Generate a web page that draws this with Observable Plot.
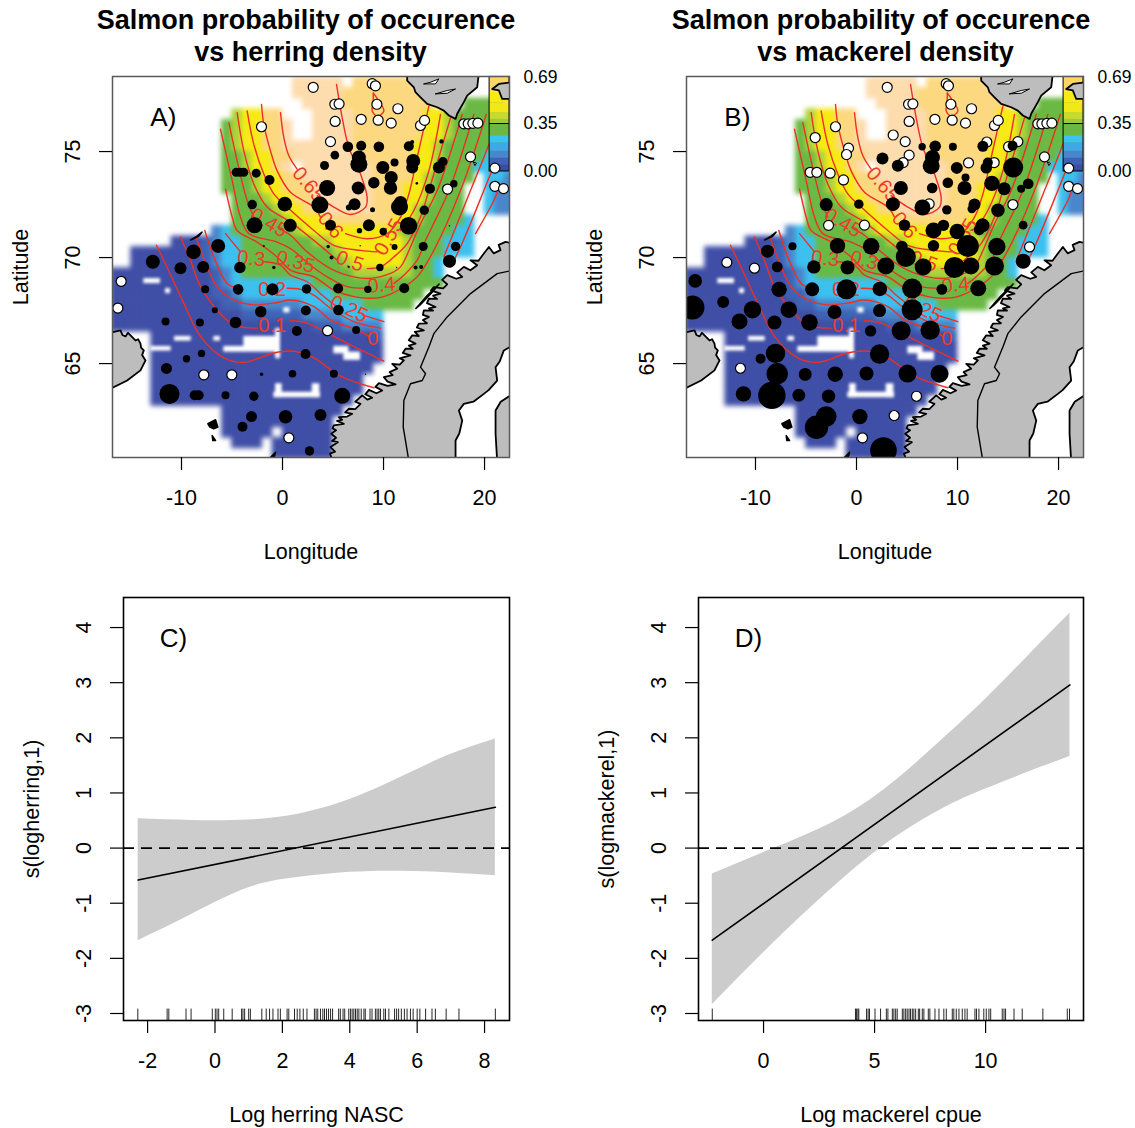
<!DOCTYPE html>
<html><head><meta charset="utf-8">
<script src="https://cdn.jsdelivr.net/npm/d3@7"></script>
<script src="https://cdn.jsdelivr.net/npm/@observablehq/plot@0.6"></script>
<style>
html,body{margin:0;padding:0;background:#fff;overflow:hidden}
#page{position:relative;width:1135px;height:1128px;font-family:"Liberation Sans",Arial,sans-serif}
.t{position:absolute;text-align:center;font-weight:bold;font-size:27px;line-height:32px;color:#000;white-space:nowrap}
.t span{position:relative;left:4.5px}
.p{position:absolute}
</style></head><body><div id="page"></div>
<script>
// Gridded probability field: one string per 0.5 degree latitude row, north to south, 1 degree longitude columns from 17W
const fieldRows = [
"..................99999.888888..........",
"..................99999888888888........",
"...................9999888888888...5555.",
"............67788...9999888888877655555.",
"...........5677889..9999888888877655555.",
"...........5677889..99998888888776555555",
"...........56778899999998888887765555555",
"...........55677889999999888887765555444",
"...........5567789.999999988887765554444",
"...........5556778899999998888765555.443",
"...........555677888999999888776555..433",
"............55567788999999888776555..433",
"............55556778899999888765555..433",
"............555556777888888877655554....",
"..........34555555677777777765555544....",
"......111234455555556677777776555444....",
"..1111112234455555555567777776555444....",
"..1111111234455555555556777776554.......",
"111111111123455555555555666666554.......",
"111111111123444444445555555555555.......",
"1111111111223444444444555555555.........",
"111111111112233333344444455555..........",
"111111111111122222233334444.............",
"111111111111111111112223333.............",
"....11111111111111111111112.............",
"....11111111111111111111111.............",
"....11111111111111111111111.............",
"....1111111111111111111111..............",
"....111111111111111111111...............",
"....111111111111111111111...............",
"....11111111111111111111................",
"...........111111111111.................",
"...........11111111111..................",
"...........11111.11111..................",
"............111.111111..................",
"................111111.................."
];
const fieldPalette = ["#3f4ea6","#3f62b4","#4a86cb","#3cc0ef","#6ab944","#aed23a","#f7ea14","#fcd880","#fddcae"];
// Unsampled gaps inside the field: lon1, lon2, lat1, lat2
const fieldGaps = [[-13.73,-12.08,69.01,68.77],[-11.58,-11.09,68.54,68.3],[-10.69,-9.04,66.28,66.06],[-6.8,-6.14,66.28,66.06],[-13.07,-11.02,65.81,65.59],[-5.81,-.53,65.81,65.54],[-3.83,-.53,66.28,65.75],[-.69,-.2,66.65,65.23],[5.08,6.57,65.81,65.46],[6.07,7.72,65.54,65.15],[-.86,3.76,63.65,63.39],[-.69,-.03,64.05,63.39],[2.94,3.7,64.05,63.39],[.13,.73,67.64,67.39]];

// Contour strands [lon,lat], one array per unbroken piece
const contour05 = [[[-12.48,70.58],[-11.75,69.87],[-9.77,67.84],[-8.12,66.28],[-5.81,65.27],[-3.83,65.06],[-.86,65.5],[1.12,65.58],[3.1,65.27],[5.74,64.41],[9.04,63.86]]];
const contour10 = [[[-10.1,70.97],[-9.11,69.87],[-8.12,68.63],[-6.47,67.53],[-4.82,66.83],[-2.51,66.67]],[[.79,67.02],[2.44,66.91],[4.75,66.36],[7.39,65.73],[10.03,65.11]]];
const contour15 = [[[-8.51,70.89],[-7.46,69.56],[-6.47,68.63],[-4.82,68],[-2.84,67.77],[-.53,67.88],[.79,68],[3.1,67.69],[4.75,67.06],[7.39,66.59],[8.55,66.28]],[[19.11,71.13],[20.92,72.69],[21.25,73.08]]];
const contour20 = [[[-7.69,71.28],[-6.8,70.03],[-5.48,68.78],[-4.16,68.52]],[[.46,68.55],[1.78,68.5],[3.1,68.23],[4.75,67.61],[7.06,66.98],[9.7,66.67]],[[16.63,69.56],[17.62,70.5],[19.93,73.16],[21.09,74.56]]];
const contour30 = [[[-5.64,71.13],[-4.16,70.27]],[[-1.85,69.8],[-.2,69.64],[.79,69.17],[2.44,68.86],[4.09,68.16],[5.58,67.61]],[[7.89,67.3],[10.03,66.98]],[[15.97,70.03],[18.61,73.16],[19.93,74.72],[20.43,75.34]]];
const contour35 = [[[-5.64,73.23],[-4.98,71.91],[-4.49,71.28],[-2.51,70.73],[-.53,70.03],[.79,69.41],[3.1,69.09],[5.08,68.47],[7.06,68.16],[8.71,68.08],[10.03,68.16],[11.52,68.47],[13.33,69.09],[14.98,70.34],[17.62,73.16],[20.17,76.75]]];
const contour40 = [[[-6.14,76.05],[-4.98,73.63],[-4.16,71.91],[-3.33,71.13],[-.53,70.73],[.79,70.42],[2.77,69.64],[4.42,69.09],[6.4,68.63],[8.38,68.55]],[[11.02,68.78],[11.68,69.02],[13.33,69.88],[14.16,70.81],[16.47,73.16],[18.94,76.75]]];
const contour45 = [[[-5.31,76.36],[-4.49,74.56],[-3.5,72.69],[-2.84,71.91]],[[-.36,71.36],[.79,71.05],[2.44,70.27],[4.75,69.48],[7.06,69.09],[8.71,69.02],[10.69,69.25],[11.68,69.56],[12.67,70.5],[13.66,71.59],[15.31,73.16],[17.79,76.75]]];
const contour50 = [[[-4.49,76.83],[-3.83,75.03],[-2.84,73.47],[-1.52,72.38],[.79,71.67],[3.1,70.81],[5.41,69.88]],[[8.38,69.48],[9.7,69.56],[11.02,70.03],[12.34,70.66],[13.66,71.91],[14.49,73.16],[16.63,76.59]]];
const contour55 = [[[-3.5,76.91],[-2.84,75.34],[-1.85,73.94],[-.86,73],[.46,72.38],[3.1,71.28],[5.08,70.58],[7.72,70.34],[9.37,70.27]],[[11.68,71.28],[13,72.22],[14.49,74.09],[15.64,76.75]]];
const contour60 = [[[-2.08,77.22],[-1.85,76.28],[-1.19,75.03],[-.53,74.09],[.79,73.08],[3.1,72.38],[3.76,71.91]],[[6.24,71.13],[8.38,70.89],[10.36,71.13],[11.68,71.91],[12.51,73],[13.33,74.72],[14.49,77.14]]];
const contour65 = [[[-.2,76.83],[.13,75.66],[.63,74.8],[1.45,74.17]],[[3.43,72.92],[5.08,72.38],[6.73,72.03],[8.22,72.38],[8.38,72.84],[7.72,73.94],[6.57,75.19],[5.91,76.59],[5.35,78.16]],[[8.98,77.77],[9.54,77.38],[10.03,76.91],[9.37,76.67],[8.88,76.91],[8.98,77.38],[8.98,77.77]]];
const allContours = [contour05,contour10,contour15,contour20,contour30,contour35,contour40,contour45,contour50,contour55,contour60,contour65];

const contourLabels = [
  ["0.65",2.6,73.44,50],["0.6",4.75,71.52,50],["0.55",10.53,70.97,-60],["0.5",6.67,69.83,20],["0.45",-1.35,71.64,30],
  ["0.4",9.8,68.7,-5],["0.35",1.29,69.8,15],["0.3",-3.1,69.95,5],["0.25",6.57,67.58,25],["0.2",-1.02,68.5,0],["0.1",-1.02,66.8,0],["0",8.95,66.18,0]
];

// Land outlines [lon,lat]
const landMain = [[4.98,60.4],[4.7,60.75],[5.2,60.85],[4.75,61.06],[5.48,61.29],[4.9,61.35],[5.3,61.5],[4.82,61.69],[5.3,61.85],[4.95,61.95],[5.08,62.08],[6.07,62.16],[5.4,62.3],[5.9,62.35],[5.58,62.47],[6.4,62.5],[6.9,62.63],[6.2,62.7],[6.57,62.87],[7.2,62.85],[7.72,63.1],[7.2,63.2],[7.89,63.5],[8.4,63.3],[8.88,63.39],[8.2,63.55],[8.55,63.76],[9.3,63.6],[9.87,63.73],[9.2,63.9],[9.54,64.08],[10.4,63.95],[11.19,64.02],[10.4,64.15],[10.03,64.36],[10.9,64.45],[10.6,64.6],[11.35,64.76],[10.86,64.99],[11.6,64.95],[12.01,65.15],[11.6,65.25],[12.67,65.39],[11.9,65.5],[12.18,65.7],[12.9,65.7],[12.5,65.85],[13.17,65.94],[12.5,66.1],[12.84,66.33],[13.5,66.3],[13.1,66.5],[13.99,66.57],[13.3,66.7],[13.5,66.88],[14.3,66.9],[13.9,67.05],[14.49,67.2],[13.9,67.3],[13.99,67.51],[14.9,67.5],[14.5,67.6],[15.15,67.67],[14.3,67.85],[14.49,68.06],[15.3,68.05],[14.9,68.2],[15.64,68.3],[14.7,68.45],[14.98,68.61],[15.9,68.55],[16.3,68.74],[15.8,68.95],[16.3,69.17],[17.2,69],[17.79,69.09],[17.3,69.3],[17.95,69.56],[18.6,69.4],[19.27,69.64],[18.61,69.87],[19.4,69.85],[19.93,70.19],[20.43,70.5],[20.9,70.2],[21.58,70.35],[21.4,70.6],[22.08,70.74],[22.8,70.66],[22.8,60.4]];
const baltic = [[17.13,60.4],[17.13,61.37],[17.5,61.7],[17.79,62.31],[17.46,62.79],[17.95,63.1],[18.9,63.2],[19.93,63.57],[20.4,63.75],[21.25,64.2],[21.09,64.83],[21.5,65.1],[21.91,65.62],[22.8,65.86],[22.8,63.57],[21.6,63.2],[21.09,62.79],[21.09,61.69],[21.25,60.4]];
const border = [[12.51,60.4],[11.95,62],[12.01,63.26],[12.67,64.05],[13.83,64.2],[14.16,64.52],[13.66,64.83],[14.49,65.78],[14.98,66.41],[16.3,67.2],[18.61,68.3],[21.25,69.24],[22.8,69.4]];
const iceland = [[-17.5,66.41],[-16.04,66.57],[-15.85,66.35],[-15.54,66.28],[-15.3,66.45],[-15.05,66.33],[-14.55,66.09],[-14.3,66.15],[-14.06,65.94],[-14,65.75],[-13.73,65.62],[-13.9,65.4],[-13.56,65.15],[-14.06,64.68],[-15.38,64.2],[-17.5,63.7]];
const svalbard = [[12.34,78.7],[19.44,78.7],[19.27,78.03],[18.28,77.64],[17.95,77.33],[17.29,76.78],[17.13,76.54],[16.47,76.7],[15.97,76.93],[15.31,77.09],[14.32,77.25],[13.66,77.56],[13.16,77.8],[13,78.03],[12.34,78.35]];
const svalbardEast = [[20.76,77.95],[21.42,78.19],[22.8,78.27],[22.8,77.48],[21.75,77.48],[21.42,77.88]];
const fjordA = [[14,78.19],[14.65,78.27],[15.48,78.43],[15.15,78.19]];
const fjordB = [[15.15,77.72],[16.3,77.88],[17.13,77.95],[16.3,77.75]];
const faroes = [[-7.39,62.16],[-6.63,62.35],[-6.4,62],[-6.8,61.92],[-7.19,62]];
const faroesS = [[-6.96,61.6],[-6.63,61.37],[-6.9,61.37]];
const shetland = [[-.69,60.82],[-1.35,60.5],[-.86,60.5]];
const janMayen = [[-9.1,70.83],[-8.5,71],[-7.96,71.2],[-8.3,71]];
const bear = [[18.9,74.5],[19.2,74.45],[19.05,74.34]];
const lofoten = [[13.2,67.6],[14.3,68.2],[15.5,68.75],[14.8,68.35],[13.6,67.75]];

// Haul positions: present [lon,lat,size], absent [lon,lat]
const herringDots = [[6.47,75.23,5.3],[7.79,75.27,5],[9.54,75.23,5.3],[12.5,75.25,5],[12.84,75.45,2],[15.74,75.48,2.2],[5.18,74.83,4.3],[7.56,74.72,7],[7.56,74.4,8.5],[4.16,74.34,4.5],[9.93,74.25,6.5],[11.09,74.48,4],[12.94,74.56,7],[12.84,74.25,6],[15.87,74.52,4.7],[15.48,74.25,6],[-4.59,74.02,4.5],[-4.22,74.02,4.5],[-3.83,74.02,4.5],[-2.6,73.98,4.5],[-1.29,73.66,5],[10.76,73.78,6.5],[9.04,73.53,5.7],[10.69,73.28,6.7],[4.42,73.28,8],[7.49,73.28,6.5],[13.3,73.5,1.3],[14.59,73.25,5],[16.96,73.48,3.7],[3.7,72.48,8.5],[.23,72.52,7.3],[-3,72.5,4.7],[7.13,72.52,6],[6.57,72.36,3],[11.58,72.38,8.5],[11.68,72.6,6.5],[14.03,72.23,4.7],[8.91,72.25,2.5],[-2.77,71.52,8],[.76,71.52,6.5],[4.75,71.53,5.5],[8.55,71.52,6],[12.48,71.5,8.7],[7.62,71.27,2.7],[9.97,71.23,3.7],[16.53,71.5,.7],[-1.85,70.55,1],[4.52,70.52,1.7],[7.69,70.56,.7],[11.09,70.5,3],[13.93,70.52,4.5],[17.13,70.53,4.7],[-6.37,70.55,7],[-8.81,70.27,7.3],[-12.84,69.8,7],[-10.1,69.5,6],[-7.85,69.55,6],[-4.22,69.53,5.7],[-.86,69.53,1.7],[4.85,70,2],[6.57,69.55,1],[9.64,69.53,3.7],[11.29,69.53,.7],[13.17,69.53,2],[13.73,69.55,2],[16.53,69.83,6.5],[-7.66,68.5,4],[-4.39,68.5,5.3],[-.99,68.5,6],[2.38,68.52,4.7],[5.51,68.54,5],[8.45,68.5,3.7],[12.05,68.55,5],[-6.7,67.51,3],[-2.15,67.45,5.7],[2.31,67.5,5],[5.54,67.53,5.3],[-11.58,66.99,4],[-8.18,66.94,4],[-4.65,66.94,5.8],[1.42,66.54,5],[7.29,66.58,4],[-8.02,65.48,3.7],[-9.5,65.23,3.7],[2.28,65.45,5],[-11.49,64.77,5.5],[-2.08,64.5,1.7],[.99,64.52,3.8],[5.08,64.52,4],[8.22,64.5,.7],[-11.19,63.57,10],[-8.7,63.51,5],[-8.3,63.51,5],[-5.64,63.51,4],[-2.84,63.46,4.7],[5.91,63.48,8],[-3.07,62.5,5.5],[.3,62.49,6.8],[3.76,62.57,6],[-3.96,62.02,5],[2.67,60.88,4.7]];
const herringAbsent = [[3.04,78.03],[8.88,78.2],[9.2,78.1],[5.18,77.23],[5.6,77.25],[9.34,77.23],[5.21,76.42],[7.79,76.52],[9.47,76.48],[11.42,77.02],[10.76,76.34],[13.66,76.23],[14.06,76.47],[-2.08,76.17],[4.75,75.47],[17.95,76.31],[18.38,76.31],[18.84,76.33],[19.34,76.34],[18.61,74.75],[21.02,74.22],[16.34,73.23],[21.02,73.36],[21.88,73.25],[-15.97,68.88],[-16.3,67.62],[4.46,66.55],[-7.79,64.47],[-5.02,64.47],[.63,61.5]];
const mackerelDots = [[6.5,75.23,3.7],[7.79,75.25,5.8],[9.54,75.23,4],[12.51,75.25,5.5],[15.45,75.27,5],[2.57,74.67,6],[4.09,74.33,6],[7.52,74.72,7.5],[7.39,74.33,8.5],[9.93,74.23,6],[13,74.48,5],[12.84,74.23,5.7],[15.51,74.25,10],[10.79,73.78,4],[9.04,73.53,5.3],[10.69,73.28,7],[4.39,73.28,7],[7.49,73.28,5.3],[13.4,73.5,7.7],[14.62,73.25,6.5],[17,73.48,5.3],[16.3,73.25,4],[3.6,72.52,7],[.23,72.52,4.7],[-3,72.5,6.5],[6.53,72.36,8],[11.68,72.5,6],[11.42,72.3,4.4],[14,72.23,6.7],[8.94,72.25,4.7],[4.75,71.53,5.7],[7.62,71.28,8],[8.61,71.52,5.7],[9.97,71.23,7.7],[12.48,71.52,7],[12.15,71.31,5.4],[16.5,71.53,4.4],[-1.88,70.56,7.7],[1.45,70.53,8.3],[4.49,70.53,5.7],[7.62,70.56,5.7],[11.02,70.55,11],[13.89,70.52,8.7],[4.88,70.03,10],[-6.34,70.53,4],[-8.81,70.3,6.5],[-.89,69.53,7],[-4.22,69.56,6.7],[2.9,69.6,8.5],[6.6,69.55,8.5],[9.7,69.53,10.5],[11.32,69.6,8.5],[13.66,69.6,9.5],[16.5,69.83,7.5],[-7.85,69.56,5.4],[-15.97,68.9,6.8],[-16.24,67.64,12],[-13.2,67.9,6],[-10.3,67.54,8.7],[-11.58,66.99,8],[-8.12,66.94,7],[-6.7,67.54,8.3],[-7.66,68.5,7.7],[-4.39,68.5,7],[-.99,68.5,10],[2.31,68.52,7.3],[5.51,68.54,10],[8.45,68.5,5.4],[12.05,68.55,8],[-2.18,67.43,7],[2.28,67.5,6.5],[5.51,67.54,10.5],[-4.65,66.94,8.3],[1.39,66.54,5.7],[4.42,66.55,9.5],[7.29,66.58,9.7],[-8.02,65.48,9.7],[-9.5,65.23,5],[2.28,65.45,9.7],[-7.85,64.52,10.7],[-5.08,64.49,6.4],[-2.11,64.5,7.7],[.99,64.53,7],[5.05,64.53,9],[8.22,64.52,9],[-11.19,63.57,7.7],[-8.38,63.5,13.7],[-5.71,63.51,6.4],[-2.77,63.46,6.7],[-3,62.5,10.3],[-3.96,62,11.7],[.33,62.5,7.7],[2.67,60.9,13.3]];
const mackerelAbsent = [[3.04,78.03],[8.88,78.2],[9.1,78.1],[5.15,77.23],[5.58,77.25],[9.34,77.23],[5.21,76.42],[7.76,76.52],[9.47,76.48],[11.39,77.02],[10.79,76.34],[13.66,76.23],[14.03,76.47],[-2.08,76.17],[3.63,75.78],[4.82,75.47],[-4.09,75.66],[-.79,75.16],[-.99,74.86],[5.21,74.83],[4.62,74.48],[11.09,74.47],[12.9,75.45],[15.97,75.47],[15.05,75.23],[13.63,74.48],[-4.59,74.02],[-3.93,74.02],[-2.61,73.98],[-1.29,73.66],[7.19,72.53],[15.48,72.5],[-2.77,71.52],[.79,71.53],[17.95,76.31],[18.35,76.31],[18.84,76.33],[19.34,76.34],[18.61,74.75],[21,74.22],[21,73.36],[21.88,73.25],[17.13,70.5],[-12.84,69.77],[-10.1,69.5],[-11.49,64.78],[5.94,63.46],[3.73,62.55],[.59,61.5]];

// Probability legend
const legendValues = [0,.05,.1,.15,.21,.26,.35,.38,.43,.5,.58,.69];
const legendColors = ["#3a4ea6","#3f62b4","#4a86cb","#3fa8e6","#3cc3f0","#6cb843","#9ccb3c","#c8db2c","#f2e818","#f8ea14","#fbd662"];
const legendTicks = ["0.00","0.35","0.69"];

// Smooth terms
const herringX = [-2.28,-.68,1,2.5,4,5.5,7,8.32];
const herringUpper = [.53,.5,.51,.62,.88,1.28,1.7,1.98];
const herringLower = [-1.68,-1.2,-.72,-.53,-.44,-.42,-.45,-.5];
const herringFit = [[-2.28,-.58],[8.32,.74]];
const mackerelX = [-2.31,.5,3,5.5,8,10,12,13.8];
const mackerelUpper = [-.47,0,.44,1.08,1.95,2.7,3.52,4.26];
const mackerelLower = [-2.84,-1.7,-.76,.07,.7,1.07,1.39,1.66];
const mackerelFit = [[-2.31,-1.67],[13.8,2.96]];
const herringRug = [-2.29,-1.42,-1.37,-.86,-.71,-.08,.01,.06,.11,.26,.51,.79,.83,.88,1,1.05,1.39,1.52,1.62,1.72,1.87,1.94,2.14,2.19,2.36,2.44,2.52,2.62,2.73,2.95,3,3.05,3.13,3.2,3.25,3.31,3.37,3.43,3.49,3.67,3.72,3.8,3.85,3.97,4.02,4.07,4.12,4.17,4.22,4.27,4.34,4.42,4.46,4.6,4.66,4.76,4.81,4.86,4.91,5.01,5.06,5.16,5.33,5.39,5.45,5.53,5.62,5.7,5.8,5.88,6,6.08,6.25,6.44,6.54,6.86,7.24,8.32];
const mackerelRug = [-2.31,4.14,4.19,4.25,4.29,4.64,4.71,4.77,5.02,5.27,5.53,5.6,5.8,5.87,5.95,6.02,6.25,6.32,6.4,6.47,6.55,6.62,6.7,6.77,6.85,6.97,7.03,7.15,7.22,7.42,7.49,7.72,7.9,8.12,8.23,8.5,8.57,8.68,8.8,8.95,9.07,9.17,9.52,9.59,9.7,9.92,10.03,10.15,10.23,10.75,10.83,10.9,11.28,11.65,12.58,13.68,13.78];

const page = document.getElementById("page");
const FONT = '"Liberation Sans", Arial, sans-serif';
function place(el,left,top){const d=document.createElement("div");d.className="p";d.style.left=left+"px";d.style.top=top+"px";d.appendChild(el);page.appendChild(d);}
function title(a,b,cx){const d=document.createElement("div");d.className="t";d.style.left=(cx-260)+"px";d.style.width="520px";d.style.top="4px";d.innerHTML=a+"<br><span>"+b+"</span>";page.appendChild(d);}

const cells = fieldRows.flatMap((row,r)=>Array.from(row).map((c,i)=>({lon:-17+i,lat:78-r*.5,code:+c,c})).filter(d=>d.c!=="."));
const contourPts = allContours.flatMap((level,l)=>level.flatMap((strand,s)=>strand.map(p=>({lon:p[0],lat:p[1],id:l+"-"+s}))));
const ly = d3.scaleLinear([0,.69],[74.06,78.52]);
const legendBands = legendColors.map((col,i)=>({a:ly(legendValues[i]),b:ly(legendValues[i+1]),col}));
const legendX1 = 20.5, legendX2 = 22.47;
const landStyle = {fill:"#bdbdbd",stroke:"#000",strokeWidth:1.8,clip:true};
const poly = (pts,o)=>Plot.line(pts.concat([pts[0]]),{x:d=>d[0],y:d=>d[1],...o});

function mapPanel(dots,absent,letter){
  return Plot.plot({
    width:561,height:510,marginLeft:112,marginRight:52,marginTop:16,marginBottom:113,
    style:{fontFamily:FONT,fontSize:"22.7px",background:"transparent",overflow:"visible"},
    x:{domain:[-16.83,22.47]},y:{domain:[60.57,78.54]},
    r:{type:"identity"},
    color:{domain:[1,2,3,4,5,6,7,8,9],range:fieldPalette},
    marks:[
      Plot.rect(cells,{x1:"lon",x2:d=>d.lon+1,y1:"lat",y2:d=>d.lat+.5,fill:"code",clip:true,imageFilter:"blur(2.8px)",inset:-.3}),
      Plot.rect(fieldGaps,{x1:d=>d[0],x2:d=>d[1],y1:d=>d[2],y2:d=>d[3],fill:"#fff",clip:true,imageFilter:"blur(1.5px)"}),
      Plot.line(contourPts,{x:"lon",y:"lat",z:"id",stroke:"#ee2f24",strokeWidth:1.4,curve:"catmull-rom",clip:true}),
      Plot.text(contourLabels,{x:d=>d[1],y:d=>d[2],text:d=>d[0],rotate:d=>d[3],fill:"#ee3a2c",fontSize:20}),
      Plot.rect(legendBands,{x1:legendX1,x2:legendX2,y1:"a",y2:"b",fill:"col"}),
      Plot.rect([0],{x1:legendX1,x2:legendX2,y1:ly(0),y2:ly(.69),stroke:"#000",strokeWidth:1,fill:"none"}),
      Plot.ruleY([ly(.35)],{x1:legendX1,x2:legendX2,stroke:"#000",strokeWidth:1}),
      Plot.text(legendTicks,{x:23.85,y:d=>ly(+d),text:d=>d,textAnchor:"start",fontSize:17.5}),
      poly(landMain,landStyle),
      poly(baltic,{fill:"#fff",stroke:"#000",strokeWidth:1.8,clip:true}),
      Plot.line(border,{x:d=>d[0],y:d=>d[1],stroke:"#000",strokeWidth:1.4,clip:true}),
      poly(iceland,landStyle),poly(svalbard,landStyle),poly(svalbardEast,landStyle),
      poly(fjordA,{fill:"#fff",stroke:"#000",strokeWidth:1}),poly(fjordB,{fill:"#fff",stroke:"#000",strokeWidth:1}),
      poly(faroes,{fill:"#000",stroke:"#000"}),poly(faroesS,{fill:"#000",stroke:"#000"}),poly(shetland,{fill:"#000",stroke:"#000",clip:true}),
      poly(janMayen,{fill:"#fff",stroke:"#000",strokeWidth:1.5}),poly(bear,{fill:"#fff",stroke:"#000",strokeWidth:1}),poly(lofoten,{fill:"#000",stroke:"#000"}),
      Plot.dot(absent,{x:d=>d[0],y:d=>d[1],r:5,fill:"#fff",stroke:"#000",strokeWidth:1.2,clip:true}),
      Plot.dot(dots,{x:d=>d[0],y:d=>d[1],r:d=>d[2],fill:"#000",stroke:"none",clip:true}),
      Plot.frame({stroke:"#5a5a5a",strokeWidth:1.5}),
      Plot.text([letter],{x:-11.8,y:76.6,text:d=>d,fontSize:26}),
      Plot.axisX({ticks:[-10,0,10,20],fontSize:21.5,tickSize:13,tickPadding:19,strokeWidth:1.2,label:"Longitude",labelAnchor:"center",labelArrow:"none",labelOffset:101,tickFormat:d=>String(d)}),
      Plot.axisY({ticks:[65,70,75],fontSize:21.5,tickSize:13,tickPadding:20,strokeWidth:1.2,tickRotate:-90,label:"Latitude",labelAnchor:"center",labelArrow:"none",labelOffset:100,tickFormat:d=>String(d)})
    ]
  });
}

function smoothPanel(o){
  const band=o.xs.map((x,i)=>({x,u:o.upper[i],l:o.lower[i]}));
  return Plot.plot({
    width:o.width,height:568,marginLeft:123,marginRight:o.width-123-o.frame,marginTop:37,marginBottom:108,
    style:{fontFamily:FONT,fontSize:"22.7px",background:"transparent",overflow:"visible"},
    x:{domain:o.xd},y:{domain:[-3.127,4.545]},
    marks:[
      Plot.areaY(band,{x:"x",y1:"l",y2:"u",fill:"#cccccc",curve:"natural"}),
      Plot.ruleY([0],{stroke:"#000",strokeWidth:1.6,strokeDasharray:"11,7"}),
      Plot.line(o.fit,{x:d=>d[0],y:d=>d[1],stroke:"#000",strokeWidth:1.6}),
      Plot.ruleX(o.rug,{y1:-3.127,y2:-2.92,stroke:"#000",strokeWidth:1,strokeOpacity:.85}),
      Plot.frame({stroke:"#000",strokeWidth:1.6}),
      Plot.text([o.letter],{x:o.lx,y:3.8,text:d=>d,fontSize:26}),
      Plot.axisX({ticks:o.xt,fontSize:21.5,tickSize:13,tickPadding:19,strokeWidth:1.2,label:o.xl,labelAnchor:"center",labelArrow:"none",labelOffset:101,tickFormat:d=>String(d)}),
      Plot.axisY({ticks:[-3,-2,-1,0,1,2,3,4],fontSize:21.5,tickSize:13,tickPadding:20,strokeWidth:1.2,tickRotate:-90,label:o.yl,labelAnchor:"center",labelArrow:"none",labelOffset:100,tickFormat:d=>String(d)})
    ]
  });
}

title("Salmon probability of occurence","vs herring density",306);
title("Salmon probability of occurence","vs mackerel density",881);
place(mapPanel(herringDots,herringAbsent,"A)"),0,60);
place(mapPanel(mackerelDots,mackerelAbsent,"B)"),574,60);
place(smoothPanel({width:540,frame:386,xd:[-2.715,8.74],xs:herringX,upper:herringUpper,lower:herringLower,fit:herringFit,rug:herringRug,letter:"C)",lx:-1.23,xt:[-2,0,2,4,6,8],xl:"Log herring NASC",yl:"s(logherring,1)"}),0,560);
place(smoothPanel({width:540,frame:385,xd:[-2.93,14.41],xs:mackerelX,upper:mackerelUpper,lower:mackerelLower,fit:mackerelFit,rug:mackerelRug,letter:"D)",lx:-.68,xt:[0,5,10],xl:"Log mackerel cpue",yl:"s(logmackerel,1)"}),575,560);
</script></body></html>
